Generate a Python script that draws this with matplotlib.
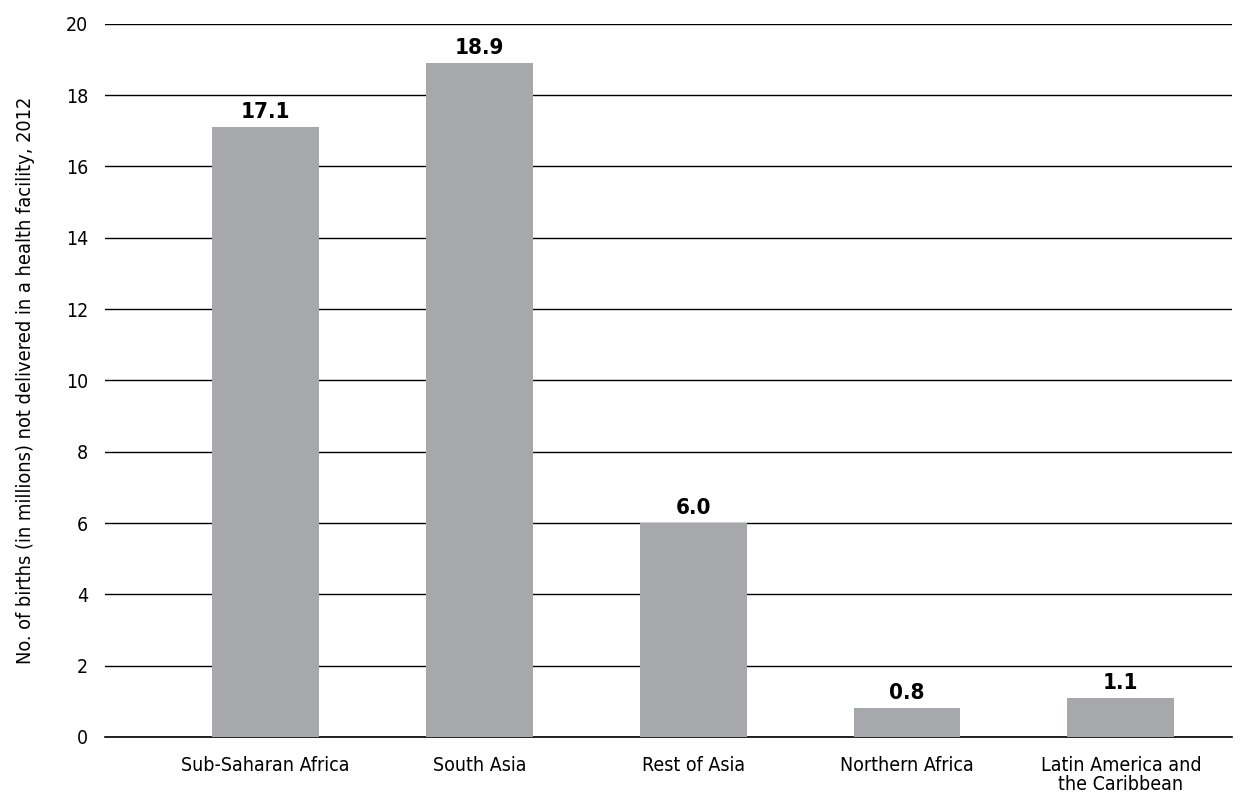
import matplotlib
matplotlib.use("Agg")
import matplotlib.pyplot as plt

regions = ["Sub-Saharan Africa", "South Asia", "Rest of Asia", "Northern Africa",
           "Latin America and\nthe Caribbean"]
births = [17.1, 18.9, 6.0, 0.8, 1.1]
yticks = [0, 2, 4, 6, 8, 10, 12, 14, 16, 18, 20]

plt.rcParams['font.family'] = ['Liberation Sans Narrow', 'DejaVu Sans']
plt.rcParams['font.stretch'] = 'condensed'

fig = plt.figure(figsize=(12.47, 7.95), dpi=100)
ax = fig.add_axes([0.0842, 0.073, 0.9038, 0.897])

x = range(len(regions))
ax.bar(x, births, width=0.5, color='#a7a8ab', zorder=3)
for xi, v in zip(x, births):
    ax.text(xi, v + 0.14, f"{v:.1f}", ha='center', va='bottom',
            fontsize=16, fontweight='bold', zorder=4)

ax.set_yticks(yticks)
ax.set_ylim(0, 20)
ax.set_xlim(-0.75, 4.52)
ax.yaxis.grid(True, color='black', linewidth=1, zorder=1)
ax.axhline(0, color='black', linewidth=1.2, zorder=2, clip_on=False)
ax.set_xticks(list(x))
ax.set_xticklabels(regions, fontsize=14, linespacing=1.0)
ax.tick_params(axis='both', length=0, labelsize=14)
ax.tick_params(axis='y', pad=12)
ax.tick_params(axis='x', pad=14)
for s in ax.spines.values():
    s.set_visible(False)

ax.set_ylabel("No. of births (in millions) not delivered in a health facility, 2012",
              fontsize=14.3, labelpad=22)

fig.savefig("out.png", dpi=100)
